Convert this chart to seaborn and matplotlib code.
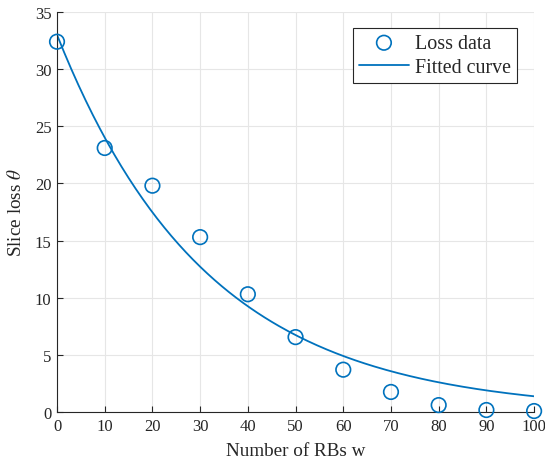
"""Slice loss versus number of RBs, with an exponential fit."""

import matplotlib.pyplot as plt
import numpy as np
import pandas as pd
import seaborn as sns

# Measured loss values
num_rbs = [0, 10, 20, 30, 40, 50, 60, 70, 80, 90, 100]
slice_loss = [32.4, 23.1, 19.8, 15.3, 10.3, 6.55, 3.7, 1.75, 0.6, 0.17, 0.08]

# Fitted curve parameters: loss = fit_a * exp(-fit_b * w)
fit_a = 33.0
fit_b = 0.0318

x_ticks = [0, 10, 20, 30, 40, 50, 60, 70, 80, 90, 100]
y_ticks = [0, 5, 10, 15, 20, 25, 30, 35]

blue = "#0072BD"

sns.set_theme(style="whitegrid")
plt.rcParams["font.family"] = ["Liberation Serif", "DejaVu Serif"]
plt.rcParams["mathtext.fontset"] = "stix"

fig = plt.figure(figsize=(5.45, 4.64), dpi=100)
ax = fig.add_axes([0.1046, 0.11, 0.8754, 0.862])

w_fit = np.linspace(0, 100, 201)
df_fit = pd.DataFrame({"w": w_fit, "loss": fit_a * np.exp(-fit_b * w_fit)})
df_data = pd.DataFrame({"w": num_rbs, "loss": slice_loss})

sns.scatterplot(
    data=df_data, x="w", y="loss", ax=ax, marker="o", s=110,
    facecolor="none", edgecolor=blue, linewidth=1.2, label="Loss data",
    zorder=3, clip_on=False,
)
sns.lineplot(
    data=df_fit, x="w", y="loss", ax=ax, color=blue, linewidth=1.3,
    label="Fitted curve", zorder=2,
)

ax.set_xlim(0, 100)
ax.set_ylim(0, 35)
ax.set_xticks(x_ticks)
ax.set_yticks(y_ticks)
ax.set_xlabel("Number of RBs w", fontsize=13.8, labelpad=6)
ax.set_ylabel(r"Slice loss $\theta$", fontsize=13.8, labelpad=7)
ax.tick_params(axis="both", labelsize=12, direction="in", length=4,
               width=0.8, color="#262626", labelcolor="#262626", pad=4,
               bottom=True, left=True)

ax.grid(True, color="#e6e6e6", linewidth=0.8)
ax.set_facecolor("white")
for side in ["top", "right"]:
    ax.spines[side].set_visible(False)
for side in ["left", "bottom"]:
    ax.spines[side].set_color("#262626")
    ax.spines[side].set_linewidth(0.8)

leg = ax.legend(loc="upper right", bbox_to_anchor=(0.964, 0.96), fontsize=14.4,
                frameon=True, fancybox=False, edgecolor="#262626",
                framealpha=1, borderpad=0.3, handlelength=2.5,
                handletextpad=0.3, labelspacing=0.25, borderaxespad=0)
leg.get_frame().set_linewidth(0.8)

plt.savefig("out.png", dpi=100)
